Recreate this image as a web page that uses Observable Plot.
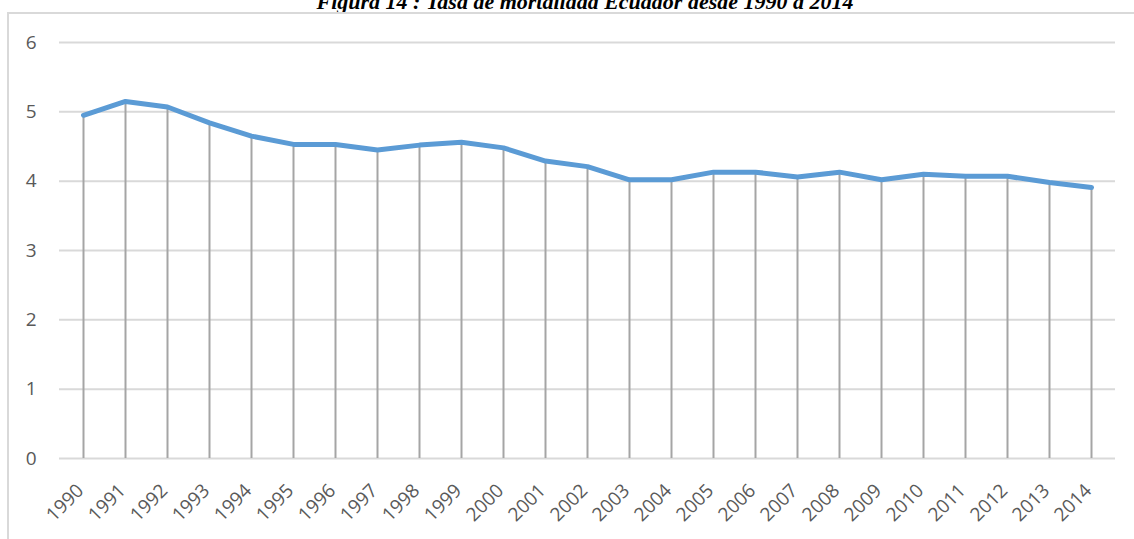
<!DOCTYPE html>
<html>
<head>
<meta charset="utf-8">
<script src="https://cdn.jsdelivr.net/npm/d3@7"></script>
<script src="https://cdn.jsdelivr.net/npm/@observablehq/plot@0.6"></script>
<style>
  html, body { margin: 0; padding: 0; background: #fff; overflow: hidden; }
  #wrap { position: relative; width: 1134px; height: 539px; overflow: hidden; }
  #title { position: absolute; left: 18px; width: 1134px; top: -12px; text-align: center;
    font-family: "Liberation Serif", "Times New Roman", serif; font-weight: bold; font-style: italic;
    font-size: 22px; line-height: 28px; color: #000; white-space: nowrap; }
  #frame { position: absolute; left: 7px; top: 12px; width: 1140px; height: 540px;
    border-top: 2px solid #d9d9d9; border-left: 2px solid #d9d9d9; box-sizing: border-box; }
  #chart { position: absolute; left: 0; top: 13px; }
</style>
</head>
<body>
<div id="wrap">
  <div id="title">Figura 14 : Tasa de mortalidad Ecuador desde 1990 a 2014</div>
  <div id="frame"></div>
  <div id="chart"></div>
</div>
<script>
const years = [1990,1991,1992,1993,1994,1995,1996,1997,1998,1999,2000,2001,2002,2003,2004,2005,2006,2007,2008,2009,2010,2011,2012,2013,2014];
const rates = [4.95,5.15,5.07,4.84,4.65,4.53,4.53,4.45,4.52,4.56,4.48,4.29,4.21,4.02,4.02,4.13,4.13,4.06,4.13,4.02,4.10,4.07,4.07,3.98,3.91];
const yTicks = [0,1,2,3,4,5,6];

const data = years.map((y, i) => ({year: y, value: rates[i]}));

const chart = Plot.plot({
  width: 1134,
  height: 526,
  marginTop: 29,
  marginBottom: 81,
  marginLeft: 59,
  marginRight: 19,
  style: {fontFamily: "'Open Sans', sans-serif", fontSize: "19px", background: "transparent"},
  x: {type: "point", domain: years, padding: 0.5},
  y: {domain: [0, 6]},
  marks: [
    Plot.ruleY(yTicks, {stroke: "#d9d9d9", strokeWidth: 2}),
    Plot.ruleX(data, {x: "year", y1: 0, y2: "value", stroke: "#a5a5a5", strokeWidth: 2}),
    Plot.line(data, {x: "year", y: "value", stroke: "#5b9bd5", strokeWidth: 5, strokeLinejoin: "round", strokeLinecap: "round"}),
    Plot.axisY({ticks: yTicks, tickSize: 0, tickPadding: 23, color: "#595959", fontSize: 19, label: null, tickFormat: d => String(d)}),
    Plot.axisX({ticks: years, tickSize: 0, tickRotate: -45, tickPadding: 29, dx: -3, color: "#595959", fontSize: 19, label: null, tickFormat: d => String(d)})
  ]
});
document.getElementById("chart").appendChild(chart);
</script>
</body>
</html>
